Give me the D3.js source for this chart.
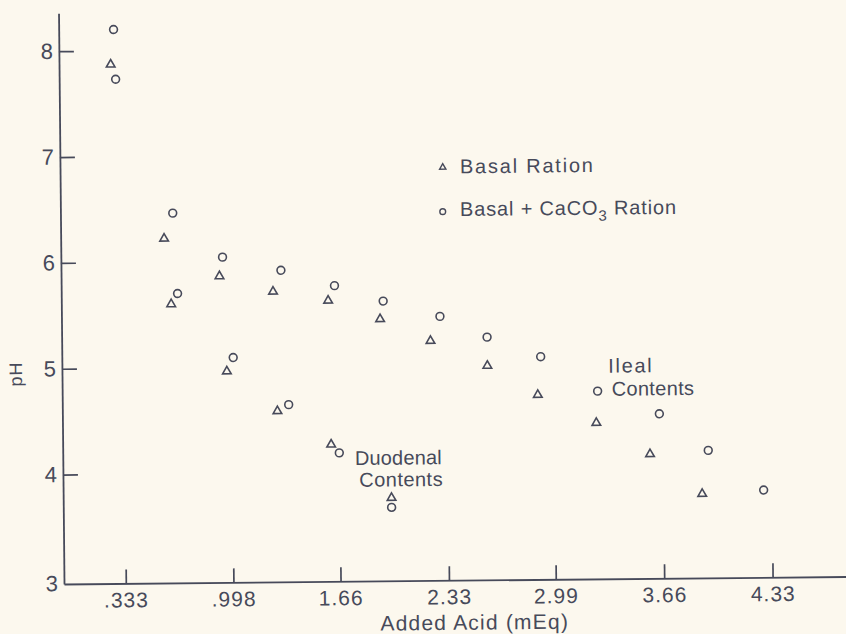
<!DOCTYPE html>
<html><head><meta charset="utf-8">
<script src="https://cdn.jsdelivr.net/npm/d3@7"></script>
<style>body{margin:0;background:#fcf8ee;} svg{display:block;}</style>
</head><body>
<svg id="chart" width="846" height="634"></svg>
<script>
// ---- data ----
const xTickValues = [0.333, 0.998, 1.66, 2.33, 2.99, 3.66, 4.33];
const xTickLabels = [".333", ".998", "1.66", "2.33", "2.99", "3.66", "4.33"];
const yTickValues = [3, 4, 5, 6, 7, 8];

// Basal Ration (triangles)
const basalAcid = [0.27, 0.59, 0.63, 0.93, 0.97, 1.26, 1.28, 1.60, 1.61, 1.92, 1.98, 2.23, 2.58, 2.89, 3.25, 3.58, 3.90];
const basalPH   = [7.87, 6.22, 5.60, 5.86, 4.96, 5.71, 4.58, 5.62, 4.26, 5.44, 3.75, 5.23, 4.99, 4.71, 4.44, 4.14, 3.76];

// Basal + CaCO3 Ration (circles)
const caco3Acid = [0.29, 0.30, 0.645, 0.67, 0.95, 1.01, 1.31, 1.35, 1.64, 1.66, 1.94, 1.98, 2.29, 2.58, 2.91, 3.26, 3.64, 3.94, 4.28];
const caco3PH   = [8.20, 7.73, 6.46, 5.70, 6.04, 5.09, 5.91, 4.64, 5.76, 4.18, 5.61, 3.66, 5.46, 5.26, 5.07, 4.74, 4.52, 4.17, 3.79];

const seriesNames = ["Basal Ration", "Basal + CaCO", "3", " Ration"];
const xTitle = "Added Acid (mEq)";
const yTitle = "pH";

// ---- drawing ----
const W = 846, H = 634;
const ink = "#474a5a";
const font = "'Liberation Sans', Arial, sans-serif";

const svg = d3.select("#chart");
svg.append("rect").attr("width", W).attr("height", H).attr("fill", "#fcf8ee");

const g = svg.append("g").attr("transform", "rotate(-0.55,64,584)");

const x = d3.scaleLinear().domain([-0.049, 4.87]).range([64, 860]);
const y = d3.scaleLinear().domain([2.966, 8.358]).range([584, 13.3]);

const xAxis = d3.axisBottom(x).tickValues(xTickValues)
  .tickFormat((d, i) => xTickLabels[i])
  .tickSizeInner(-14).tickSizeOuter(0).tickPadding(9);
const yAxis = d3.axisLeft(y).tickValues(yTickValues)
  .tickFormat(d3.format("d"))
  .tickSizeInner(-15).tickSizeOuter(0).tickPadding(5);

const gx = g.append("g").attr("transform", `translate(0,${y.range()[0]})`).call(xAxis);
const gy = g.append("g").attr("transform", `translate(${x.range()[0]},0)`).call(yAxis);

[gx, gy].forEach(a => {
  a.select(".domain").attr("stroke", ink).attr("stroke-width", 1.8);
  a.selectAll(".tick line").attr("stroke", ink).attr("stroke-width", 1.7);
  a.selectAll(".tick text").attr("fill", ink).attr("font-family", font)
    .attr("letter-spacing", 1);
});
gx.selectAll(".tick text").attr("font-size", 21);
gy.selectAll(".tick text").attr("font-size", 22);
// bottom-most label sits at the corner, without a tick mark
gy.selectAll(".tick").filter(d => d === yTickValues[0])
  .attr("transform", `translate(0,${y.range()[0]})`)
  .call(t => t.select("line").remove());

// markers
const tri = d3.symbol(d3.symbolTriangle, 32);
g.append("g").selectAll("path").data(basalAcid.map((a, i) => [a, basalPH[i]]))
  .join("path")
  .attr("d", tri)
  .attr("transform", d => `translate(${x(d[0])},${y(d[1])})`)
  .attr("fill", "none").attr("stroke", ink).attr("stroke-width", 1.6);

g.append("g").selectAll("circle").data(caco3Acid.map((a, i) => [a, caco3PH[i]]))
  .join("circle")
  .attr("cx", d => x(d[0])).attr("cy", d => y(d[1])).attr("r", 3.9)
  .attr("fill", "none").attr("stroke", ink).attr("stroke-width", 1.6);

// helper: spread text to a target width
function fit(sel, width) {
  const n = sel.text().length;
  const w = sel.node().getComputedTextLength();
  sel.attr("letter-spacing", Math.max(0, (width - w) / (n - 1)));
  return sel;
}
function label(px, py, txt, size, width) {
  const t = g.append("text").attr("x", px).attr("y", py)
    .attr("fill", ink).attr("font-family", font).attr("font-size", size).text(txt);
  if (width) fit(t, width);
  return t;
}

// legend
g.append("path").attr("d", d3.symbol(d3.symbolTriangle, 17))
  .attr("transform", "translate(446.7,171)")
  .attr("fill", "none").attr("stroke", ink).attr("stroke-width", 1.4);
g.append("circle").attr("cx", 446.3).attr("cy", 215.3).attr("r", 2.9)
  .attr("fill", "none").attr("stroke", ink).attr("stroke-width", 1.4);
label(463.9, 177.1, seriesNames[0], 20, 133);

const l2 = g.append("text").attr("x", 463.6).attr("y", 219.8)
  .attr("fill", ink).attr("font-family", font).attr("font-size", 20);
l2.append("tspan").text(seriesNames[1]);
l2.append("tspan").attr("dy", 6).attr("font-size", 15).text(seriesNames[2]);
l2.append("tspan").attr("dy", -6).text(seriesNames[3]);
fit(l2, 216);

// annotations
label(356.1, 467.8, "Duodenal", 20, 86.7);
label(360.2, 489.5, "Contents", 20, 83.4);
label(610.3, 377.9, "Ileal", 20, 43.4);
label(613.5, 401, "Contents", 20, 82.3);

// axis titles
label(380, 633.6, xTitle, 21, 187.5);
g.append("text").attr("transform", "translate(24,373.6) rotate(-90)")
  .attr("text-anchor", "middle").attr("fill", ink).attr("font-family", font)
  .attr("font-size", 18).attr("letter-spacing", 1).text(yTitle);
</script>
</body></html>
